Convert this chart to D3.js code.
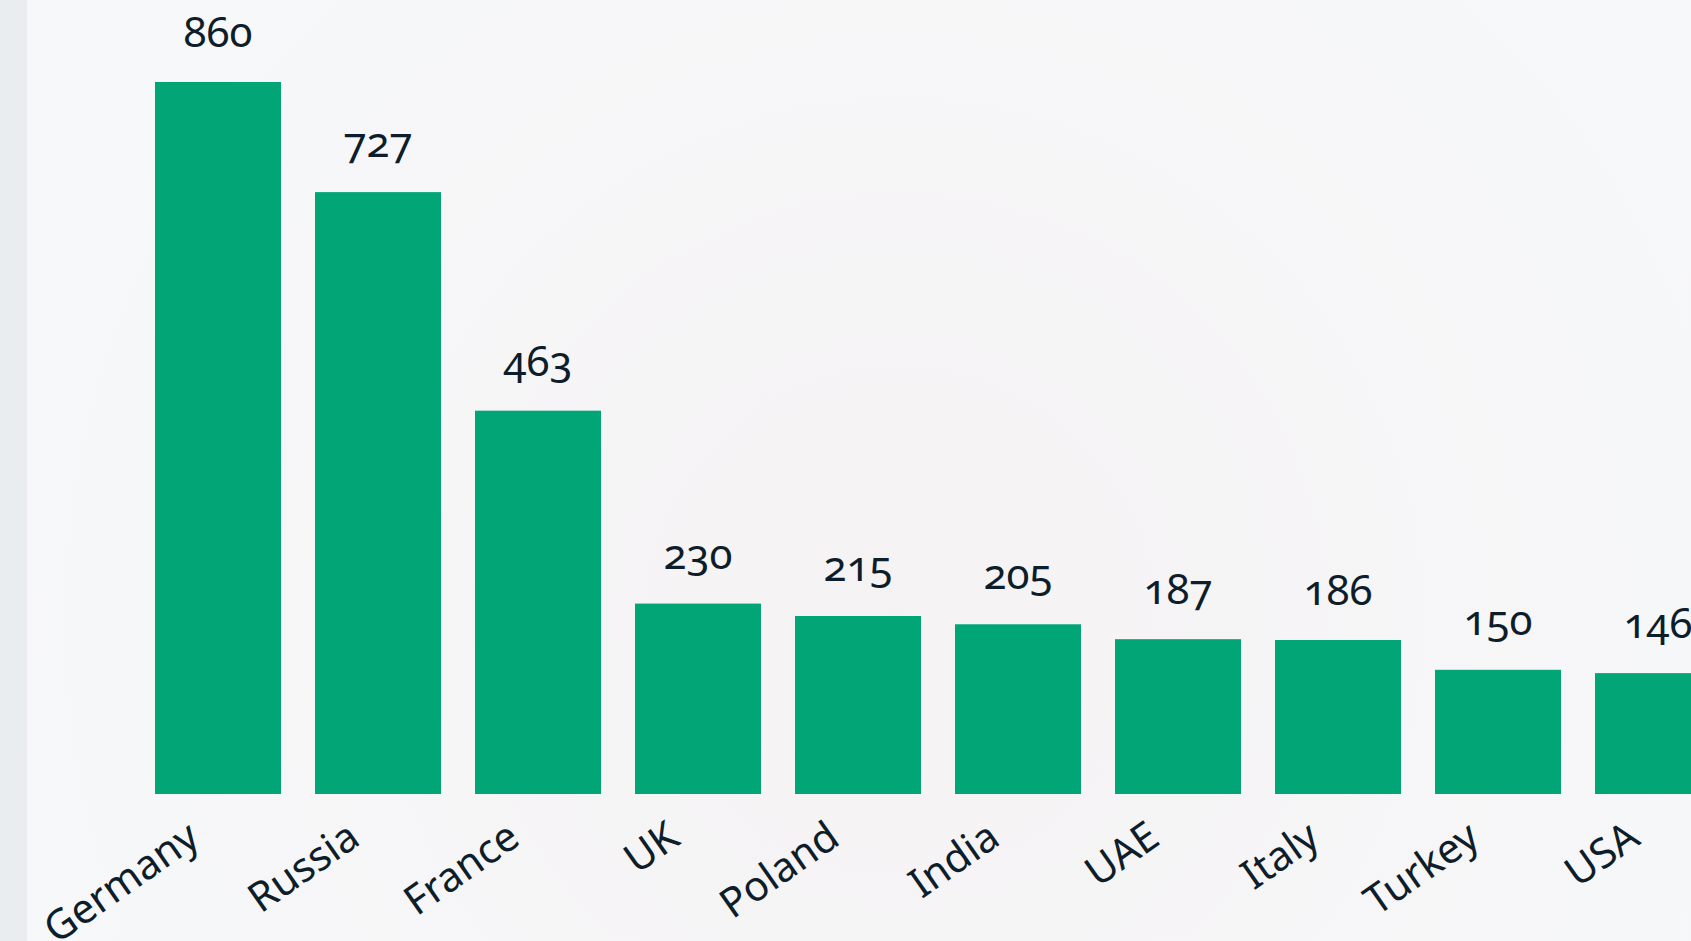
<!DOCTYPE html>
<html>
<head>
<meta charset="utf-8">
<script src="https://cdn.jsdelivr.net/npm/d3@7"></script>
<style>
  html, body { margin: 0; padding: 0; overflow: hidden; background: #f7f8f9; }
  text { font-family: "Noto Sans", "Open Sans", sans-serif; fill: #0e1d2a; }
  .value { font-variant-numeric: oldstyle-nums; font-feature-settings: "onum" 1; }
</style>
</head>
<body>
<script>
var countries = ['Germany', 'Russia', 'France', 'UK', 'Poland', 'India', 'UAE', 'Italy', 'Turkey', 'USA'];
var values = [860, 727, 463, 230, 215, 205, 187, 186, 150, 146];

var width = 1691;
var height = 941;

var svg = d3.select('body').append('svg').attr('width', width).attr('height', height);

// soft background glow
var defs = svg.append('defs');
var grad = defs.append('radialGradient').attr('id', 'bg')
  .attr('gradientUnits', 'userSpaceOnUse')
  .attr('cx', 900).attr('cy', 620).attr('r', 900);
grad.append('stop').attr('offset', '0%').attr('stop-color', '#f5f2f3');
grad.append('stop').attr('offset', '100%').attr('stop-color', '#f7f8fa');

svg.append('rect').attr('width', width).attr('height', height).attr('fill', 'url(#bg)');
svg.append('rect').attr('width', 27).attr('height', height).attr('fill', '#e9edf0');

var x = d3.scaleBand()
  .domain(countries)
  .range([138, 1738])
  .paddingInner(0.2125)
  .paddingOuter(0.10625);

var y = d3.scaleLinear()
  .domain([0, 860])
  .range([794, 82]);

var data = countries.map(function (c, i) {
  return { country: c, value: values[i] };
});

svg.selectAll('.bar')
  .data(data)
  .enter()
  .append('rect')
  .attr('class', 'bar')
  .attr('x', function (d) { return x(d.country); })
  .attr('y', function (d) { return y(d.value); })
  .attr('width', x.bandwidth())
  .attr('height', function (d) { return y(0) - y(d.value); })
  .attr('fill', '#02a676');

svg.selectAll('.value')
  .data(data)
  .enter()
  .append('text')
  .attr('class', 'value')
  .attr('x', function (d) { return x(d.country) + x.bandwidth() / 2; })
  .attr('y', function (d) { return y(d.value) - 35; })
  .attr('text-anchor', 'middle')
  .attr('font-size', 42)
  .text(function (d) { return d.value; });

svg.selectAll('.label')
  .data(data)
  .enter()
  .append('text')
  .attr('class', 'label')
  .attr('transform', function (d) {
    return 'translate(' + (x(d.country) + x.bandwidth() / 2 - 16) + ',843) rotate(-35)';
  })
  .attr('text-anchor', 'end')
  .attr('font-size', 41)
  .text(function (d) { return d.country; });
</script>
</body>
</html>
